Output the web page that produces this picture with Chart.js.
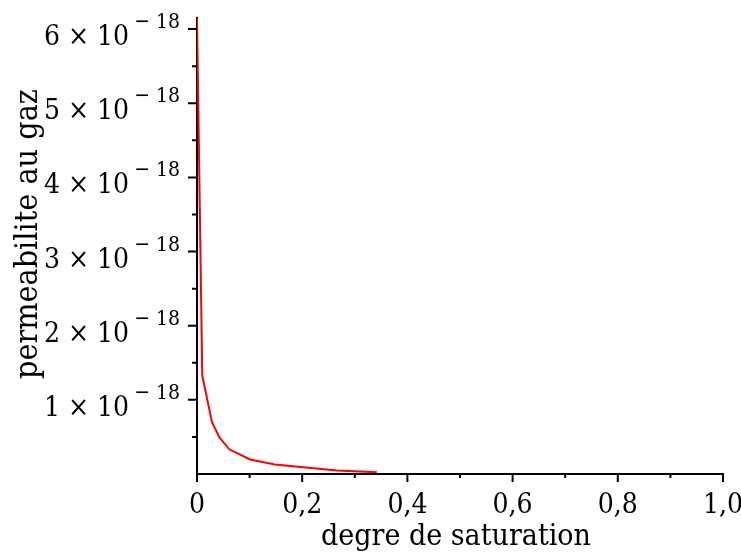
<!DOCTYPE html>
<html>
<head>
<meta charset="utf-8">
<script src="https://cdn.jsdelivr.net/npm/chart.js@4"></script>
<style>
  body { margin: 0; background: #fff; }
  #wrap { width: 741px; height: 552px; }
</style>
</head>
<body>
<div id="wrap"><canvas id="graf" width="741" height="552"></canvas></div>
<script>
// datos
const saturacion = [0, 0.010, 0.0285, 0.043, 0.062, 0.101, 0.148, 0.266, 0.342];
const permeabilidad = [6.15e-18, 1.33e-18, 0.70e-18, 0.49e-18, 0.33e-18, 0.196e-18, 0.128e-18, 0.047e-18, 0.024e-18];

const xTicks = [0, 0.2, 0.4, 0.6, 0.8, 1.0];
const xTickLabels = ['0', '0,2', '0,4', '0,6', '0,8', '1,0'];
const xMinor = [0.1, 0.3, 0.5, 0.7, 0.9];

const yTicks = [1e-18, 2e-18, 3e-18, 4e-18, 5e-18, 6e-18];
const yTickMant = ['1', '2', '3', '4', '5', '6'];
const yMinor = [0.5e-18, 1.5e-18, 2.5e-18, 3.5e-18, 4.5e-18, 5.5e-18];
const yExp = '\u2212 18';

const xTitle = 'degre de saturation';
const yTitle = 'permeabilite au gaz';

const FONT = '"DejaVu Serif Condensed", "DejaVu Serif", serif';
const fuente = size => 'condensed ' + size + 'px ' + FONT;

// ticks, etiquetas y titulos dibujados con las escalas de Chart.js
const ejes = {
    id: 'ejes',
    afterDraw(chart) {
        const ctx = chart.ctx;
        const xs = chart.scales.x;
        const ys = chart.scales.y;
        const area = chart.chartArea;
        ctx.save();
        ctx.strokeStyle = '#000';
        ctx.fillStyle = '#000';
        ctx.lineWidth = 2;

        // marcas eje x
        ctx.beginPath();
        xTicks.forEach(v => {
            const px = xs.getPixelForValue(v);
            ctx.moveTo(px, area.bottom);
            ctx.lineTo(px, area.bottom + 8);
        });
        xMinor.forEach(v => {
            const px = xs.getPixelForValue(v);
            ctx.moveTo(px, area.bottom);
            ctx.lineTo(px, area.bottom + 4);
        });
        // marcas eje y
        yTicks.forEach(v => {
            const py = ys.getPixelForValue(v);
            ctx.moveTo(area.left, py);
            ctx.lineTo(area.left - 9, py);
        });
        yMinor.forEach(v => {
            const py = ys.getPixelForValue(v);
            ctx.moveTo(area.left, py);
            ctx.lineTo(area.left - 5, py);
        });
        ctx.stroke();

        // etiquetas eje x
        ctx.font = fuente(28);
        ctx.textAlign = 'center';
        ctx.textBaseline = 'alphabetic';
        xTicks.forEach((v, i) => {
            ctx.fillText(xTickLabels[i], xs.getPixelForValue(v), 513);
        });

        // etiquetas eje y con exponente
        yTicks.forEach((v, i) => {
            const py = ys.getPixelForValue(v);
            ctx.font = fuente(21);
            ctx.textAlign = 'right';
            const wSup = ctx.measureText(yExp).width;
            ctx.fillText(yExp, 180, py - 1);
            ctx.font = fuente(28);
            ctx.fillText(yTickMant[i] + ' \u00d7 10', 180 - wSup - 5, py + 16);
        });

        // titulos
        ctx.font = fuente(30);
        ctx.textAlign = 'center';
        ctx.fillText(xTitle, 456, 545);
        ctx.font = fuente(32);
        ctx.translate(29, 234);
        ctx.rotate(-Math.PI / 2);
        ctx.textBaseline = 'middle';
        ctx.fillText(yTitle, 0, 0);
        ctx.restore();
    }
};

const ctx = document.getElementById('graf').getContext('2d');
const grafico = new Chart(ctx, {
    type: 'line',
    data: {
        datasets: [{
            data: saturacion.map((s, i) => ({ x: s, y: permeabilidad[i] })),
            borderColor: '#ff0000',
            borderWidth: 2,
            pointRadius: 0,
            tension: 0,
            fill: false
        }]
    },
    options: {
        responsive: false,
        animation: false,
        layout: { padding: { left: 197, top: 18, right: 18, bottom: 78 } },
        plugins: { legend: { display: false }, tooltip: { enabled: false } },
        scales: {
            x: {
                type: 'linear', min: 0, max: 1,
                grid: { display: false, drawTicks: false, tickLength: 0 },
                border: { display: true, color: '#000', width: 2 },
                ticks: { display: false }
            },
            y: {
                type: 'linear', min: 0, max: 6.15e-18,
                grid: { display: false, drawTicks: false, tickLength: 0 },
                border: { display: true, color: '#000', width: 2 },
                ticks: { display: false }
            }
        }
    },
    plugins: [ejes]
});
</script>
</body>
</html>
